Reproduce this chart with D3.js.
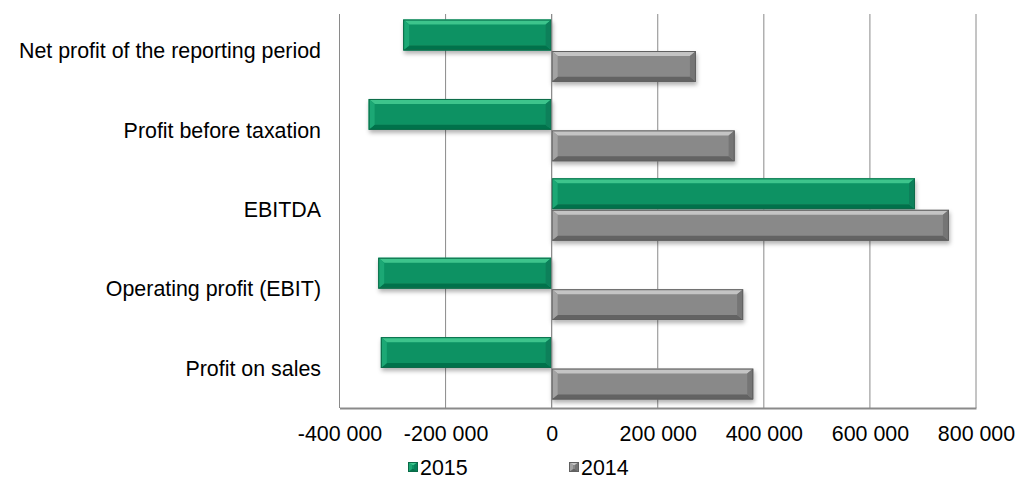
<!DOCTYPE html>
<html>
<head>
<meta charset="utf-8">
<script src="https://cdn.jsdelivr.net/npm/d3@7"></script>
<style>
  body { margin: 0; background: #fff; }
  svg { display: block; font-family: Arial, "Liberation Sans", sans-serif; }
</style>
</head>
<body>
<svg id="chart" width="1017" height="480"></svg>
<script>
// data
var categories = ['Net profit of the reporting period', 'Profit before taxation', 'EBITDA', 'Operating profit (EBIT)', 'Profit on sales'];
var series = ['2015', '2014'];
var values2015 = [-280000, -345000, 685000, -327000, -322000];
var values2014 = [272000, 345000, 749000, 361000, 380000];
var ticks = [-400000, -200000, 0, 200000, 400000, 600000, 800000];

var rows = categories.map((c, i) => ({ cat: c, '2015': values2015[i], '2014': values2014[i] }));

var palette = {
  '2015': { mid: '#0c9263', top: '#3cc48c', bot: '#06724c', left: '#1ca874', right: '#08805a', edge: '#0a6a48' },
  '2014': { mid: '#898989', top: '#c4c4c4', bot: '#636363', left: '#a3a3a3', right: '#747474', edge: '#606060' }
};

var fmt = d3.formatLocale({ decimal: '.', thousands: ' ', grouping: [3], currency: ['', ''], minus: '-' }).format(',.0f');

var svg = d3.select('#chart');
var plotL = 339.5, plotR = 976, plotT = 11, plotB = 408;
var fontSize = '21.4px';

var x = d3.scaleLinear().domain([-400000, 800000]).range([plotL, plotR]);
var y = d3.scaleBand().domain(categories).range([plotT, plotB]).paddingInner(0.2).paddingOuter(0.1);
var ySub = d3.scaleBand().domain(series).range([0, y.bandwidth()]).padding(0.02);

var defs = svg.append('defs');
var shadow = defs.append('filter').attr('id', 'shadow')
  .attr('x', '-10%').attr('y', '-30%').attr('width', '120%').attr('height', '180%');
shadow.append('feDropShadow')
  .attr('dx', 1).attr('dy', 3).attr('stdDeviation', 2)
  .attr('flood-color', '#000').attr('flood-opacity', 0.3);

// gridlines
svg.append('g')
  .selectAll('line')
  .data(ticks)
  .join('line')
  .attr('x1', d => x(d)).attr('x2', d => x(d))
  .attr('y1', plotT + 3).attr('y2', plotB)
  .attr('stroke', '#8a8a8a')
  .attr('stroke-width', 1);

// bevelled bar
function bevel(g, x0, x1, y0, y1, c, b) {
  var bh = Math.min(b, (y1 - y0) / 3), bw = Math.min(b + 1, (x1 - x0) / 2);
  g.append('rect').attr('x', x0).attr('y', y0).attr('width', x1 - x0).attr('height', y1 - y0)
    .attr('fill', c.mid);
  var polys = [
    [[x0, y0], [x1, y0], [x1 - bw, y0 + bh], [x0 + bw, y0 + bh], c.top],
    [[x0, y1], [x1, y1], [x1 - bw, y1 - bh], [x0 + bw, y1 - bh], c.bot],
    [[x0, y0], [x0 + bw, y0 + bh], [x0 + bw, y1 - bh], [x0, y1], c.left],
    [[x1, y0], [x1 - bw, y0 + bh], [x1 - bw, y1 - bh], [x1, y1], c.right]
  ];
  polys.forEach(p => {
    g.append('polygon').attr('points', p.slice(0, 4).map(q => q.join(',')).join(' ')).attr('fill', p[4]);
  });
  g.append('rect').attr('x', x0 + 0.5).attr('y', y0 + 0.5).attr('width', x1 - x0 - 1).attr('height', y1 - y0 - 1)
    .attr('fill', 'none').attr('stroke', c.edge).attr('stroke-width', 1);
}

// bars
var barsG = svg.append('g');
rows.forEach(r => {
  series.forEach(s => {
    var v = r[s];
    var x0 = x(Math.min(0, v)), x1 = x(Math.max(0, v));
    var y0 = y(r.cat) + ySub(s), y1 = y0 + ySub.bandwidth();
    var g = barsG.append('g').attr('filter', 'url(#shadow)');
    bevel(g, x0, x1, y0, y1, palette[s], 5);
  });
});

// zero axis line and bottom axis
svg.append('line')
  .attr('x1', x(0)).attr('x2', x(0)).attr('y1', plotT + 3).attr('y2', plotB)
  .attr('stroke', '#8a8a8a').attr('stroke-width', 1);

var xAxis = svg.append('g')
  .attr('transform', `translate(0,${plotB})`)
  .call(d3.axisBottom(x).tickValues(ticks).tickFormat(fmt).tickSize(0).tickPadding(0));
xAxis.select('.domain').attr('stroke', '#8a8a8a').attr('stroke-width', 2);
xAxis.selectAll('text')
  .attr('y', 33).attr('dy', null)
  .attr('fill', '#000')
  .style('font-size', fontSize);

// category labels
svg.append('g')
  .selectAll('text')
  .data(categories)
  .join('text')
  .attr('x', 321)
  .attr('y', d => y(d) + y.bandwidth() / 2 + 7.5)
  .attr('text-anchor', 'end')
  .attr('fill', '#000')
  .style('font-size', fontSize)
  .text(d => d);

// legend
var legendX = [408, 569];
var legend = svg.append('g')
  .selectAll('g')
  .data(series)
  .join('g')
  .attr('transform', (d, i) => `translate(${legendX[i]},462)`);
legend.each(function (d) {
  bevel(d3.select(this), 0, 10, 0, 10, palette[d], 3);
});
legend.append('text')
  .attr('x', 12).attr('y', 12.5)
  .attr('fill', '#000')
  .style('font-size', fontSize)
  .text(d => d);
</script>
</body>
</html>
